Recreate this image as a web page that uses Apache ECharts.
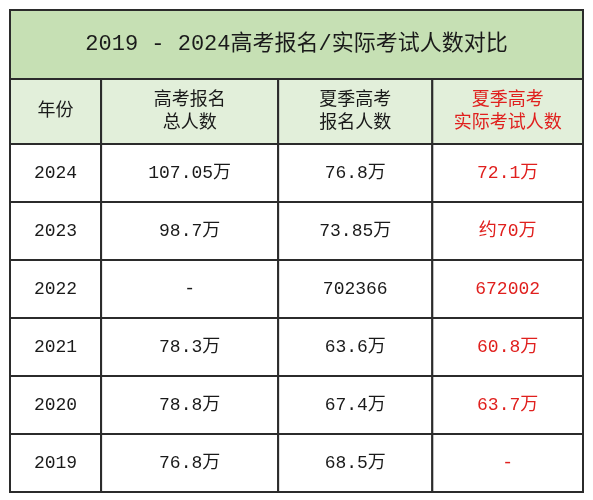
<!DOCTYPE html>
<html><head><meta charset="utf-8">
<script src="https://cdn.jsdelivr.net/npm/echarts@6/dist/echarts.min.js"></script>
<style>html,body{margin:0;padding:0;background:#fff}#c{width:593px;height:500px}</style>
</head><body><div id="c"></div>
<script>
const title = '2019 - 2024高考报名/实际考试人数对比';
const headers = ['年份', '高考报名\n总人数', '夏季高考\n报名人数', '夏季高考\n实际考试人数'];
const years = ['2024', '2023', '2022', '2021', '2020', '2019'];
const totalApplicants = ['107.05万', '98.7万', '-', '78.3万', '78.8万', '76.8万'];
const summerApplicants = ['76.8万', '73.85万', '702366', '63.6万', '67.4万', '68.5万'];
const summerActual = ['72.1万', '约70万', '672002', '60.8万', '63.7万', '-'];

const colEdges = [0, 0.159, 0.468, 0.737, 1];
const rowEdges = [0, 69, 134, 192, 250, 308, 366, 424, 482];

const cells = [];
cells.push({value: [0, 1, 0, 1], text: title, kind: 'title'});
headers.forEach((h, i) => cells.push({value: [colEdges[i], colEdges[i+1], 1, 2], text: h, kind: i === 3 ? 'headRed' : 'head'}));
years.forEach((y, r) => {
  const row = [y, totalApplicants[r], summerApplicants[r], summerActual[r]];
  row.forEach((t, i) => cells.push({value: [colEdges[i], colEdges[i+1], r+2, r+3], text: t, kind: i === 3 ? 'red' : 'body'}));
});

const chart = echarts.init(document.getElementById('c'));
chart.setOption({
  animation: false,
  grid: {left: 10, right: 10, top: 10, bottom: 8},
  xAxis: {type: 'value', min: 0, max: 1, show: false},
  yAxis: {type: 'value', min: 0, max: 482, inverse: true, show: false},
  series: [{
    type: 'custom',
    data: cells,
    renderItem: function (params, api) {
      const c = cells[params.dataIndex];
      const p0 = api.coord([c.value[0], rowEdges[c.value[2]]]);
      const p1 = api.coord([c.value[1], rowEdges[c.value[3]]]);
      const fill = c.kind === 'title' ? '#c6e0b4' : (c.kind === 'head' || c.kind === 'headRed') ? '#e2efda' : '#ffffff';
      const color = (c.kind === 'red' || c.kind === 'headRed') ? '#e0201e' : '#1a1a1a';
      const size = c.kind === 'title' ? 22 : 18;
      return {
        type: 'group',
        children: [
          {type: 'rect', shape: {x: p0[0], y: p0[1], width: p1[0]-p0[0], height: p1[1]-p0[1]},
           style: {fill: fill, stroke: '#2b2b2b', lineWidth: 2}},
          {type: 'text', style: {x: (p0[0]+p1[0])/2, y: (p0[1]+p1[1])/2, text: c.text, fill: color,
            font: size + 'px "Liberation Mono", "Noto Sans CJK SC"', align: 'center', verticalAlign: 'middle', lineHeight: size + 5}}
        ]
      };
    }
  }]
});
</script></body></html>
